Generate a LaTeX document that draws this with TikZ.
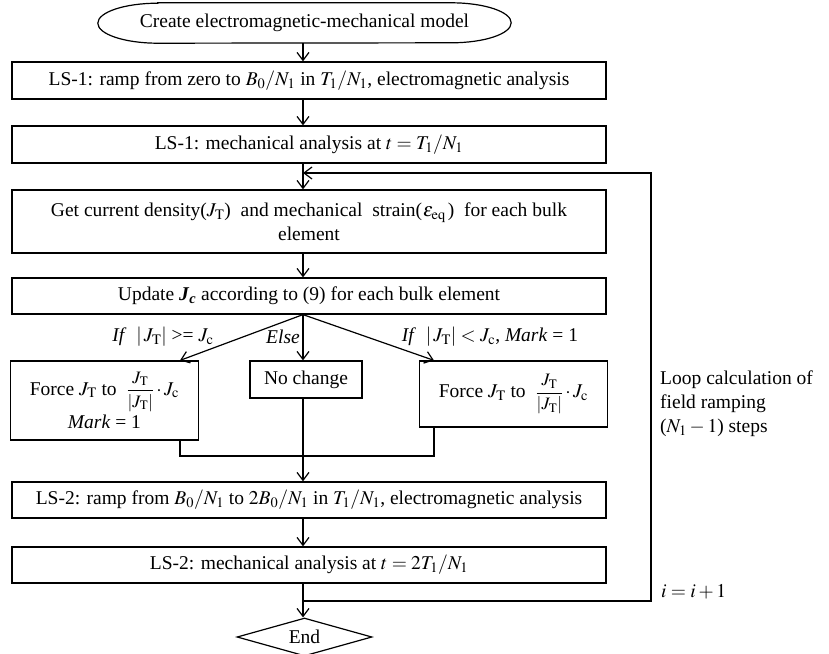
\documentclass[tikz,border=0pt]{standalone}
\usepackage{mathptmx}
\usepackage{amsmath}
\usepackage{fontspec}
\setmainfont{Liberation Serif}
\usetikzlibrary{arrows.meta,shapes.geometric}

\newcommand{\forceJ}{Force $J_\mathrm{T}$ to\ \ {\fontsize{17.5}{17.5}\selectfont$\dfrac{J_\mathrm{T}}{|J_\mathrm{T}|}$}$\,\cdot\, J_\mathrm{c}$}

\begin{document}
\begin{tikzpicture}[x=1pt,y=-1pt,
  every node/.style={font=\fontsize{19.5}{23.5}\selectfont},
  box/.style={draw, line width=1.2pt, minimum width=594pt, minimum height=37pt,
    inner sep=0pt, align=center},
  sidebox/.style={draw, line width=1.2pt, inner sep=0pt, align=center},
  stop/.style={draw, line width=1.2pt, diamond, aspect=3.5, minimum width=135pt,
    minimum height=38pt, inner sep=0pt},
  link/.style={line width=1.2pt},
  flow/.style={link, -{Straight Barb[length=8pt,width=12pt]}},
  lbl/.style={inner sep=1pt},
  note/.style={align=left, anchor=north west, inner sep=0pt,
    font=\fontsize{19.5}{24}\selectfont}]
\useasboundingbox (0,0) rectangle (829,653);

% axis of the main column and branch positions
\coordinate (ax) at (303,0);
\coordinate (tl) at (180,0);
\coordinate (tr) at (434,0);

% start terminator: flat top and bottom with elliptical ends
\node[minimum width=413pt, minimum height=40pt, inner sep=0pt] (start) at (304.5,23)
  {Create electromagnetic-mechanical model};
\draw[link] ([xshift=60pt]start.north west) -- ([xshift=-60pt]start.north east)
  arc[start angle=90, end angle=-90, x radius=60pt, y radius=20pt]
  -- ([xshift=60pt]start.south west)
  arc[start angle=270, end angle=90, x radius=60pt, y radius=20pt] -- cycle;

\node[box] (b1) at (309,80.5)
  {LS-1: ramp from zero to $B_0/N_1$ in $T_1/N_1$, electromagnetic analysis};
\node[box] (b2) at (309,144.5) {LS-1: mechanical analysis at $t=T_1/N_1$};
\node[box, minimum height=63pt] (b3) at (309,221.5)
  {Get current density($J_\mathrm{T}$)\ \ and mechanical\ \ strain(\kern1pt$\varepsilon_\mathrm{eq}\,$)\ \ for each bulk\\ element};
\node[box, minimum height=36pt] (b4) at (309,296)
  {Update \textbf{\textit{J}}\textsubscript{\textbf{\textit{c}}} according to (9) for each bulk element};

\node[sidebox, minimum width=188pt, minimum height=79pt] (bl) at (104.5,400.5)
  {\forceJ\\[3pt] \textit{Mark} = 1};
\node[sidebox, minimum width=112pt, minimum height=37pt] (bc) at (306,379.5) {No change};
\node[sidebox, minimum width=188pt, minimum height=66pt] (br) at (513.5,394) {\forceJ};

\node[box, minimum height=36pt] (b5) at (309,500)
  {LS-2: ramp from $B_0/N_1$ to $2B_0/N_1$ in $T_1/N_1$, electromagnetic analysis};
\node[box, minimum height=36pt] (b6) at (309,565) {LS-2: mechanical analysis at $t=2T_1/N_1$};
\node[stop] (fin) at (304.5,637) {End};

% branch conditions
\node[lbl] (c1) at (163,337) {\textit{If}\ \ $|\,J_\mathrm{T}|$ >= $J_\mathrm{c}$};
\node[lbl, anchor=east] (c2) at (301,337) {\textit{Else}};
\node[lbl] (c3) at (490,337) {\textit{If}\ \ $|\,J_\mathrm{T}| < J_\mathrm{c}$, \textit{Mark} = 1};

% loop notes
\node[note] (n1) at (660,371) {Loop calculation of\\field ramping\\($N_1-1$) steps};
\node[lbl, anchor=west] (n2) at (660,592) {$i=i+1$};

% main flow
\draw[flow] (start.south -| ax) -- (b1.north -| ax);
\draw[flow] (b1.south -| ax) -- (b2.north -| ax);
\draw[flow] (b2.south -| ax) -- (b3.north -| ax);
\draw[flow] (b3.south -| ax) -- (b4.north -| ax);
\coordinate (split) at (b4.south -| ax);
\draw[flow] (split) -- (bl.north -| tl);
\draw[flow] (split) -- (bc.north -| ax);
\draw[flow] (split) -- (br.north -| tr);
\coordinate (m) at (303,456);
\draw[link] (bl.south -| tl) |- (m) -| (br.south -| tr);
\draw[flow] (bc.south -| ax) -- (b5.north -| ax);
\draw[flow] (b5.south -| ax) -- (b6.north -| ax);
\draw[flow] (b6.south -| ax) -- (fin.north -| ax);

% loop back
\coordinate (j1) at (303,173);
\coordinate (j2) at (303,601);
\coordinate (lb) at (651,601);
\coordinate (lt) at (651,173);
\draw[flow] (j2) -- (lb) -- (lt) -- (j1);
\end{tikzpicture}
\end{document}
